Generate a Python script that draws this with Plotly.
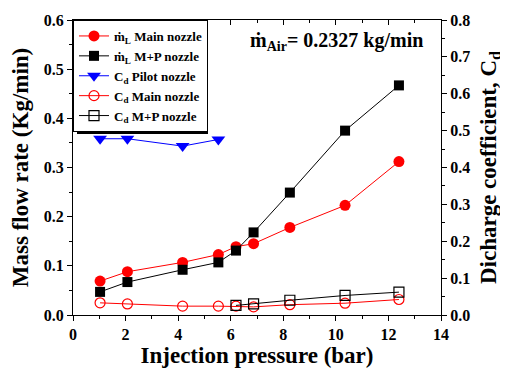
import plotly.graph_objects as go

# Data
p_main = [1.03, 2.07, 4.17, 5.53, 6.2, 6.87, 8.25, 10.35, 12.4]
mdot_main = [0.069, 0.088, 0.107, 0.123, 0.139, 0.145, 0.178, 0.223, 0.312]
mdot_mp = [0.047, 0.067, 0.092, 0.107, 0.131, 0.168, 0.249, 0.375, 0.467]

p_pilot = [1.03, 2.07, 4.17, 5.53]
cd_pilot = [0.478, 0.478, 0.458, 0.476]

cd_main = [0.033, 0.030, 0.024, 0.024, 0.024, 0.022, 0.028, 0.032, 0.042]

p_mp = [6.2, 6.87, 8.25, 10.35, 12.4]
cd_mp = [0.026, 0.030, 0.040, 0.053, 0.062]

FONT = "Liberation Serif"

fig = go.Figure()
fig.add_trace(go.Scatter(x=p_main, y=mdot_main, mode="lines+markers",
                         name="<b>ṁ<sub>L</sub> Main nozzle</b>",
                         line=dict(color="red", width=1),
                         marker=dict(symbol="circle", size=11, color="red")))
fig.add_trace(go.Scatter(x=p_main, y=mdot_mp, mode="lines+markers",
                         name="<b>ṁ<sub>L</sub> M+P nozzle</b>",
                         line=dict(color="black", width=1),
                         marker=dict(symbol="square", size=10, color="black")))
fig.add_trace(go.Scatter(x=p_pilot, y=cd_pilot, mode="lines+markers", yaxis="y2",
                         name="<b>C<sub>d</sub> Pilot nozzle</b>",
                         line=dict(color="blue", width=1),
                         marker=dict(symbol="triangle-down", size=12, color="blue")))
fig.add_trace(go.Scatter(x=p_main, y=cd_main, mode="lines+markers", yaxis="y2",
                         name="<b>C<sub>d</sub> Main nozzle</b>",
                         line=dict(color="red", width=1),
                         marker=dict(symbol="circle-open", size=10, color="red", line=dict(width=1.2))))
fig.add_trace(go.Scatter(x=p_mp, y=cd_mp, mode="lines+markers", yaxis="y2",
                         name="<b>C<sub>d</sub> M+P nozzle</b>",
                         line=dict(color="black", width=1),
                         marker=dict(symbol="square-open", size=10, color="black", line=dict(width=1.2))))
# invisible trace for top tick axis
fig.add_trace(go.Scatter(x=[0], y=[0], xaxis="x2", mode="markers",
                         marker=dict(opacity=0), showlegend=False, hoverinfo="skip"))

tickfont = dict(family=FONT, size=16, color="black")
titlefont = dict(family=FONT, size=23, color="black")

fig.update_layout(
    width=500, height=361,
    margin=dict(l=65, r=67, t=12, b=54, autoexpand=False),
    paper_bgcolor="white", plot_bgcolor="white",
    font=dict(family=FONT, color="black"),
    xaxis=dict(range=[0, 14], dtick=2, tickformat="d", showline=True, linecolor="black", linewidth=1,
               ticks="outside", ticklen=5, tickcolor="black", mirror=True, automargin=False,
               minor=dict(dtick=1, ticks="outside", ticklen=3, tickcolor="black"),
               showgrid=False, zeroline=False, tickfont=tickfont,
               tickprefix="<b>", ticksuffix="</b>",
               title=dict(text="<b>Injection pressure (bar)</b>", font=titlefont, standoff=4)),
    xaxis2=dict(range=[0, 14], dtick=2, overlaying="x", side="top", anchor="y", automargin=False,
                ticks="inside", ticklen=5, tickcolor="black", showticklabels=False,
                minor=dict(dtick=1, ticks="inside", ticklen=3, tickcolor="black"),
                showgrid=False, zeroline=False, showline=False),
    yaxis=dict(range=[0, 0.6], dtick=0.1, tickformat=".1f", showline=True, linecolor="black", linewidth=1,
               ticks="outside", ticklen=5, tickcolor="black", automargin=False,
               minor=dict(dtick=0.05, ticks="outside", ticklen=3, tickcolor="black"),
               showgrid=False, zeroline=False, tickfont=tickfont,
               tickprefix="<b>", ticksuffix="</b>",
               title=dict(text="<b>Mass flow rate (Kg/min)</b>", font=titlefont, standoff=9)),
    yaxis2=dict(range=[0, 0.8], dtick=0.1, tickformat=".1f", overlaying="y", side="right", anchor="x",
                showline=True, linecolor="black", linewidth=1, automargin=False,
                ticks="outside", ticklen=5, tickcolor="black",
                minor=dict(dtick=0.05, ticks="outside", ticklen=3, tickcolor="black"),
                showgrid=False, zeroline=False, tickfont=tickfont,
                tickprefix="<b>", ticksuffix="</b>",
                title=dict(text="<b>Dicharge coefficient, C<sub>d</sub></b>", font=titlefont, standoff=10)),
    legend=dict(x=0, y=1, xanchor="left", yanchor="top", bgcolor="white",
                bordercolor="black", borderwidth=1,
                font=dict(family=FONT, size=13, color="black"),
                tracegroupgap=0, itemwidth=30),
    showlegend=True,
)

# legend drop shadow
fig.add_shape(type="rect", xref="paper", yref="paper",
              x0=(77 - 73) / 368, x1=(208 - 73) / 368,
              y0=1 - (134 - 20) / 295, y1=1 - (24 - 20) / 295,
              fillcolor="black", line=dict(width=0), layer="above")

fig.add_annotation(x=0.957, y=0.926, xref="paper", yref="paper", xanchor="right", yanchor="middle",
                   showarrow=False,
                   text="<b>ṁ<sub>Air</sub>= 0.2327 kg/min</b>",
                   font=dict(family=FONT, size=20, color="black"))

fig.write_html("out.html")
